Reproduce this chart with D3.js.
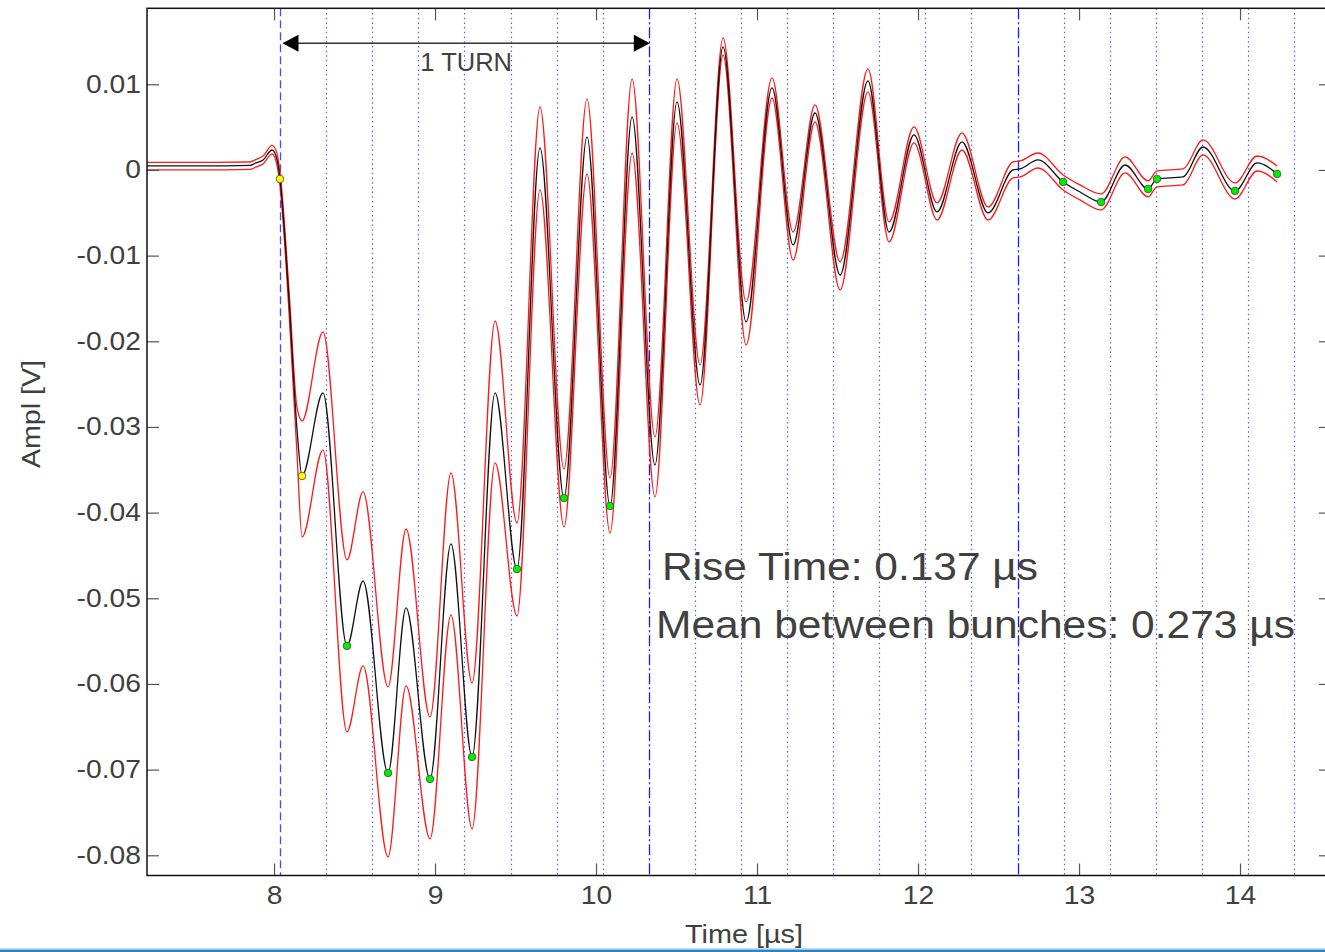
<!DOCTYPE html>
<html><head><meta charset="utf-8">
<script src="https://cdn.jsdelivr.net/npm/d3@7"></script>
<style>
body{margin:0;background:#fff}
svg{display:block}
text{font-family:"Liberation Sans",Arial,sans-serif;fill:#404040}
</style>
</head><body>
<svg id="chart" width="1325" height="952"></svg>
<script>
// ---- data (time in µs, amplitude in V) ----
const timeUs = [7.211,7.540,7.851,7.888,7.932,7.988,8.019,8.037,8.093,8.143,8.174,8.304,8.453,8.553,8.708,8.820,8.969,9.099,9.230,9.373,9.509,9.652,9.801,9.944,10.087,10.224,10.366,10.503,10.646,10.789,10.932,11.093,11.224,11.360,11.516,11.689,11.820,11.975,12.118,12.273,12.435,12.590,12.634,12.745,12.901,13.006,13.137,13.286,13.429,13.484,13.646,13.770,13.969,14.106,14.230];
const meanV  = [0.00047,0.00047,0.00053,0.00082,0.00117,0.00233,0.00117,-0.00105,-0.01517,-0.03035,-0.03572,-0.02603,-0.05556,-0.04798,-0.07039,-0.05113,-0.07109,-0.04366,-0.06852,-0.02603,-0.04658,0.00257,-0.03829,0.00385,-0.03922,0.00619,-0.03444,0.00794,-0.02510,0.01436,-0.01774,0.00957,-0.00875,0.00665,-0.01226,0.01039,-0.00724,0.00409,-0.00490,0.00327,-0.00502,0.00000,0.00012,0.00117,-0.00140,-0.00257,-0.00374,0.00058,-0.00222,-0.00105,-0.00082,0.00268,-0.00245,0.00082,-0.00047];
const upperV = [0.00088,0.00088,0.00093,0.00123,0.00163,0.00286,0.00187,-0.00023,-0.01401,-0.02778,-0.02930,-0.01891,-0.04552,-0.03759,-0.06035,-0.04191,-0.06385,-0.03537,-0.05988,-0.01763,-0.04121,0.00735,-0.03490,0.00829,-0.03595,0.01062,-0.03117,0.01062,-0.02276,0.01541,-0.01541,0.01074,-0.00724,0.00759,-0.01074,0.01179,-0.00607,0.00502,-0.00385,0.00432,-0.00432,0.00093,0.00105,0.00198,-0.00058,-0.00175,-0.00280,0.00152,-0.00128,-0.00012,0.00012,0.00350,-0.00152,0.00163,0.00047];
const lowerV = [0.00000,0.00000,0.00006,0.00035,0.00070,0.00187,0.00047,-0.00187,-0.01658,-0.03327,-0.04284,-0.03268,-0.06560,-0.05790,-0.08020,-0.06023,-0.07809,-0.05194,-0.07693,-0.03420,-0.05206,-0.00233,-0.04167,-0.00047,-0.04237,0.00198,-0.03817,0.00549,-0.02743,0.01342,-0.02043,0.00840,-0.01051,0.00560,-0.01401,0.00911,-0.00840,0.00315,-0.00584,0.00233,-0.00584,-0.00093,-0.00082,0.00023,-0.00233,-0.00350,-0.00467,-0.00035,-0.00315,-0.00198,-0.00175,0.00175,-0.00339,-0.00012,-0.00140];

const riseT = [8.037, 8.174];
const riseV = [-0.00105, -0.03572];
const bunchMinT = [8.453,8.708,8.969,9.230,9.509,9.801,10.087,12.901,13.137,13.429,13.484,13.969,14.230];
const bunchMinV = [-0.05556,-0.07039,-0.07109,-0.06852,-0.04658,-0.03829,-0.03922,-0.00140,-0.00374,-0.00222,-0.00105,-0.00245,-0.00047];

const bunchT = [8.037,8.323,8.610,8.896,9.182,9.469,9.755,10.041,10.328,10.614,10.900,11.187,11.473,11.759,12.046,12.332,12.618,12.905,13.191,13.477,13.764,14.050,14.336];
const turnT = [8.037, 10.328, 12.618];
const xTicks = [8,9,10,11,12,13,14];
const yTicks = [0.01,0,-0.01,-0.02,-0.03,-0.04,-0.05,-0.06,-0.07,-0.08];
const xDomain = [7.211, 14.565];
const yDomain = [-0.08236, 0.01887];
const riseText = "Rise Time: 0.137 µs";
const meanText = "Mean between bunches: 0.273 µs";
const turnText = "1 TURN";
const arrowV = 0.0148;

// ---- layout ----
const L = 147, R = 1331, T = 8.3, B = 875.5;
const svg = d3.select("#chart");
const x = d3.scaleLinear().domain(xDomain).range([L, R]);
const y = d3.scaleLinear().domain(yDomain).range([B, T]);

svg.append("defs").append("clipPath").attr("id","clip")
  .append("rect").attr("x",L).attr("y",T).attr("width",R-L).attr("height",B-T);

const plot = svg.append("g").attr("clip-path","url(#clip)");

// bunch lines
plot.selectAll("line.bunch").data(bunchT.filter(t => !turnT.includes(t)))
  .join("line").attr("class","bunch")
  .attr("x1",d=>Math.round(x(d))+0.5).attr("x2",d=>Math.round(x(d))+0.5)
  .attr("y1",T).attr("y2",B)
  .attr("stroke","#5c5cff").attr("stroke-width",1.2).attr("stroke-dasharray","1.5,3.2");

plot.selectAll("line.turn").data(turnT)
  .join("line").attr("class","turn")
  .attr("x1",d=>Math.round(x(d))+0.5).attr("x2",d=>Math.round(x(d))+0.5)
  .attr("y1",T).attr("y2",B)
  .attr("stroke",(d,i)=> i===0 ? "#4848ff" : "#1a1aff").attr("stroke-width",1.3)
  .attr("stroke-dasharray",(d,i)=> i===0 ? "8,4" : "11,3,2,3");

const line = arr => d3.line().x((d,i)=>x(timeUs[i])).y(d=>y(d)).curve(d3.curveMonotoneX)(arr);

plot.append("path").attr("d",line(upperV)).attr("fill","none").attr("stroke","#ff1a1a").attr("stroke-width",1.3);
plot.append("path").attr("d",line(lowerV)).attr("fill","none").attr("stroke","#ff1a1a").attr("stroke-width",1.3);
plot.append("path").attr("d",line(meanV)).attr("fill","none").attr("stroke","#111").attr("stroke-width",1.3);

plot.selectAll("circle.rise").data(riseT).join("circle").attr("class","rise")
  .attr("cx",d=>x(d)).attr("cy",(d,i)=>y(riseV[i])).attr("r",3.8)
  .attr("fill","#ffff00").attr("stroke","#444").attr("stroke-width",0.8);
plot.selectAll("circle.min").data(bunchMinT).join("circle").attr("class","min")
  .attr("cx",d=>x(d)).attr("cy",(d,i)=>y(bunchMinV[i])).attr("r",3.8)
  .attr("fill","#00ee00").attr("stroke","#444").attr("stroke-width",0.8);

// ---- axes ----
function styleAxis(g, size){
  g.select(".domain").remove();
  g.selectAll(".tick line").attr("stroke","#555").attr("stroke-width",1.2);
  g.selectAll("text").attr("font-family",'"Liberation Sans", Arial, sans-serif')
   .attr("font-size",size).style("fill","#404040");
}
const fmtY = d => d === 0 ? "0" : String(+d.toFixed(2));
const gl = svg.append("g").attr("transform",`translate(${L},0)`)
  .call(d3.axisLeft(y).tickValues(yTicks).tickFormat(fmtY).tickSizeInner(-12).tickSizeOuter(0).tickPadding(6));
styleAxis(gl,25);
const gr = svg.append("g").attr("transform",`translate(${R},0)`)
  .call(d3.axisRight(y).tickValues(yTicks).tickFormat("").tickSizeInner(-12).tickSizeOuter(0));
styleAxis(gr,25);
const gb = svg.append("g").attr("transform",`translate(0,${B})`)
  .call(d3.axisBottom(x).tickValues(xTicks).tickFormat(d3.format("d")).tickSizeInner(-12).tickSizeOuter(0).tickPadding(11));
styleAxis(gb,25);
const gt = svg.append("g").attr("transform",`translate(0,${T})`)
  .call(d3.axisTop(x).tickValues(xTicks).tickFormat("").tickSizeInner(-12).tickSizeOuter(0));
styleAxis(gt,25);

function stretch(sel, k){
  sel.each(function(){
    const w = this.getComputedTextLength();
    if (w > 0) d3.select(this).attr("textLength", w*k).attr("lengthAdjust","spacingAndGlyphs");
  });
}
stretch(gl.selectAll("text"), 1.13);
stretch(gb.selectAll("text"), 1.13);

// frame
svg.append("rect").attr("x",L).attr("y",T).attr("width",R-L).attr("height",B-T)
  .attr("fill","none").attr("stroke","#111").attr("stroke-width",1.5);

// axis titles
svg.append("text").attr("x",744).attr("y",943).attr("text-anchor","middle")
  .attr("font-size",26).attr("textLength",118).attr("lengthAdjust","spacingAndGlyphs").text("Time [µs]");
svg.append("text").attr("transform","translate(40,414) rotate(-90)").attr("text-anchor","middle")
  .attr("font-size",26).attr("textLength",108).attr("lengthAdjust","spacingAndGlyphs").text("Ampl [V]");

// turn arrow
const ax1 = x(turnT[0]) + 2.5, ax2 = x(turnT[1]) + 1, ay = y(arrowV);
svg.append("line").attr("x1",ax1+10).attr("x2",ax2-10).attr("y1",ay).attr("y2",ay)
  .attr("stroke","#333").attr("stroke-width",1.5);
svg.append("path").attr("d",`M${ax1},${ay} L${ax1+16},${ay-8.5} L${ax1+16},${ay+8.5} Z`).attr("fill","#000");
svg.append("path").attr("d",`M${ax2},${ay} L${ax2-16},${ay-8.5} L${ax2-16},${ay+8.5} Z`).attr("fill","#000");
svg.append("text").attr("x",(ax1+ax2)/2).attr("y",ay+28).attr("text-anchor","middle")
  .attr("font-size",25.5).text(turnText);

// annotations
svg.append("text").attr("x",662).attr("y",580).attr("font-size",38)
  .attr("textLength",376).attr("lengthAdjust","spacingAndGlyphs").text(riseText);
svg.append("text").attr("x",656).attr("y",638).attr("font-size",38)
  .attr("textLength",639).attr("lengthAdjust","spacingAndGlyphs").text(meanText);

// window bottom edge
svg.append("rect").attr("x",0).attr("y",948.5).attr("width",1325).attr("height",1.5).attr("fill","#8cc4ea");
svg.append("rect").attr("x",0).attr("y",950).attr("width",1325).attr("height",2).attr("fill","#2b83c6");
</script>
</body></html>
